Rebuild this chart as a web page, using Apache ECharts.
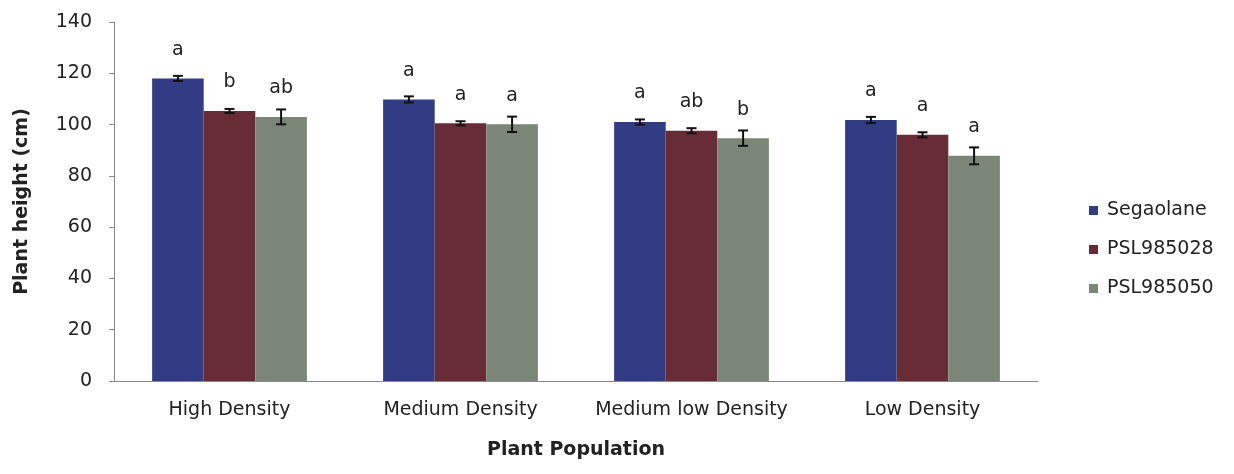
<!DOCTYPE html>
<html>
<head>
<meta charset="utf-8">
<script src="https://cdn.jsdelivr.net/npm/echarts@6/dist/echarts.min.js"></script>
<style>html,body{margin:0;padding:0;background:#fff}#c{width:1234px;height:474px}</style>
</head>
<body>
<div id="c"></div>
<script>
const categories = ['High Density', 'Medium Density', 'Medium low Density', 'Low Density'];
const seriesNames = ['Segaolane', 'PSL985028', 'PSL985050'];
const segaolane = [118, 109.8, 101, 101.8];
const psl985028 = [105.3, 100.5, 97.6, 96];
const psl985050 = [103, 100.1, 94.7, 87.8];
const errSegaolane = [1, 1.2, 1, 1.2];
const errPsl985028 = [0.8, 0.8, 1, 1];
const errPsl985050 = [2.9, 3, 3, 3.3];
const lettersSegaolane = ['a', 'a', 'a', 'a'];
const lettersPsl985028 = ['b', 'a', 'ab', 'a'];
const lettersPsl985050 = ['ab', 'a', 'b', 'a'];
const yTicks = [0, 20, 40, 60, 80, 100, 120, 140];

const values = [segaolane, psl985028, psl985050];
const errors = [errSegaolane, errPsl985028, errPsl985050];
const letters = [lettersSegaolane, lettersPsl985028, lettersPsl985050];
const colors = ['#323c84', '#682c36', '#7b8678'];
const FONT = 'DejaVu Sans';
const CAT_GAP = 0.33;

const chart = echarts.init(document.getElementById('c'));
const series = [];
seriesNames.forEach((name, i) => {
  series.push({
    name: name,
    type: 'bar',
    barGap: '0%',
    barCategoryGap: (CAT_GAP * 100) + '%',
    itemStyle: { color: colors[i] },
    data: values[i].map((v, j) => ({
      value: v,
      label: {
        show: true, position: 'top', distance: 19,
        formatter: letters[i][j],
        color: '#222', fontFamily: FONT, fontSize: 19
      }
    }))
  });
});
seriesNames.forEach((name, i) => {
  series.push({
    type: 'custom',
    z: 10,
    silent: true,
    encode: { x: 0, y: 1 },
    data: values[i].map((v, j) => [j, v, errors[i][j]]),
    renderItem: function (params, api) {
      const cat = api.value(0), v = api.value(1), e = api.value(2);
      const band = api.size([1, 0])[0];
      const bw = band * (1 - CAT_GAP) / 3;
      const off = (i - 1) * bw;
      const top = api.coord([cat, v + e]);
      const bot = api.coord([cat, v - e]);
      const x = top[0] + off;
      const cap = 5;
      const style = { stroke: '#111', lineWidth: 2 };
      return {
        type: 'group',
        children: [
          { type: 'line', shape: { x1: x, y1: top[1], x2: x, y2: bot[1] }, style: style },
          { type: 'line', shape: { x1: x - cap, y1: top[1], x2: x + cap, y2: top[1] }, style: style },
          { type: 'line', shape: { x1: x - cap, y1: bot[1], x2: x + cap, y2: bot[1] }, style: style }
        ]
      };
    }
  });
});

chart.setOption({
  animation: false,
  backgroundColor: '#ffffff',
  textStyle: { fontFamily: FONT },
  grid: { left: 114, right: 196, top: 22, bottom: 93, containLabel: false },
  legend: {
    data: seriesNames,
    orient: 'vertical',
    left: 1084,
    top: 196,
    itemWidth: 9,
    itemHeight: 9,
    itemGap: 20,
    icon: 'rect',
    textStyle: { fontFamily: FONT, fontSize: 19, color: '#222', padding: [0, 0, 0, 4] }
  },
  xAxis: {
    type: 'category',
    data: categories,
    name: 'Plant Population',
    nameLocation: 'middle',
    nameGap: 60,
    nameTextStyle: { fontFamily: FONT, fontSize: 19, fontWeight: 'bold', color: '#222' },
    axisLine: { lineStyle: { color: '#888', width: 1 } },
    axisTick: { length: 5, lineStyle: { color: '#888' } },
    axisLabel: { interval: 0, margin: 20, fontFamily: FONT, fontSize: 19, color: '#222' }
  },
  yAxis: {
    type: 'value',
    min: 0, max: 140, interval: 20,
    name: 'Plant height (cm)',
    nameLocation: 'middle',
    nameGap: 82,
    nameRotate: 90,
    nameTextStyle: { fontFamily: FONT, fontSize: 19, fontWeight: 'bold', color: '#222' },
    splitLine: { show: false },
    axisLine: { show: true, lineStyle: { color: '#888', width: 1 } },
    axisTick: { show: true, length: 5, lineStyle: { color: '#888' } },
    axisLabel: {
      margin: 22, fontFamily: FONT, fontSize: 19, color: '#222',
      formatter: v => (yTicks.indexOf(v) >= 0 ? String(v) : '')
    }
  },
  series: series
});
</script>
</body>
</html>
